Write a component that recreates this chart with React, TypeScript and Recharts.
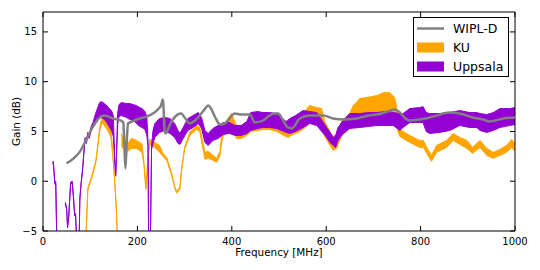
import React from 'react'
import {
  ComposedChart,
  Area,
  Line,
  XAxis,
  YAxis,
  ReferenceArea,
  Legend
} from 'recharts'

// [frequency MHz, low dB, high dB]; null = gap in the measurement
const KU: [number, number | null, number | null][] = [
  [89, -8, -8], [95, -0.9, -0.7], [105, 0.6, 0.8], [112, 1.9, 2.1], [116, 3.4, 3.6],
  [120, 5.0, 5.4], [125, 5.9, 6.4], [130, 5.6, 6.2], [137, 5.1, 5.8], [144, 4.4, 5.4],
  [148, 2.5, 2.7], [151, 0.6, 0.8], [155, -2.5, -2.3], [159.5, -8, -8], [162, null, null],
  [166, 3.6, 4.8], [172, 3.1, 4.0], [180, 3.0, 3.8], [187, 3.3, 4.3], [198, 3.3, 4.1],
  [205, 3.1, 3.9], [210, 2.8, 3.7], [214, 1.6, 1.8], [218, -0.8, -0.6], [222, 1.9, 2.1],
  [226, 3.6, 4.2], [237, 3.4, 3.9], [247, 2.9, 3.6], [254, 2.5, 2.8], [262, 2.1, 2.4],
  [272, 0.7, 0.9], [279, -0.7, -0.5], [283, -1.2, -1.0], [290, -0.8, -0.6], [293, 0.8, 1.0],
  [300, 3.2, 3.4], [311, 4.6, 4.9], [325, 5.2, 5.6], [332, 5.0, 5.4], [343, 2.2, 2.9],
  [350, 2.3, 3.0], [360, 2.1, 2.6], [368, 1.9, 2.3], [375, 2.6, 3.0], [378, 3.8, 4.4],
  [385, 5.2, 5.8], [399, 5.8, 6.8], [410, 4.3, 5.6], [420, 4.3, 5.6], [432, 4.6, 6.0],
  [440, 5.0, 6.7], [455, 5.1, 6.9], [466, 5.2, 6.8], [480, 5.2, 6.8], [495, 5.0, 6.7],
  [510, 4.6, 6.1], [519, 4.4, 5.9], [530, 4.7, 6.2], [544, 5.0, 6.7], [556, 5.4, 7.1],
  [565, 5.8, 7.6], [580, 5.8, 7.4], [590, 5.3, 7.3], [597, 4.5, 6.0], [608, 3.6, 5.0],
  [615, 3.1, 4.4], [622, 3.3, 4.8], [633, 4.6, 6.0], [643, 5.0, 6.5], [650, 5.5, 6.8],
  [657, 6.0, 7.6], [664, 6.1, 7.9], [671, 6.1, 8.3], [685, 6.1, 8.4], [707, 6.2, 8.6],
  [721, 6.2, 8.9], [735, 6.2, 8.9], [745, 6.2, 8.4], [749, 6.0, 7.6], [752, 5.0, 5.8],
  [756, 4.5, 5.2], [777, 3.9, 4.6], [798, 3.4, 4.1], [806, 3.4, 4.1], [813, 2.8, 3.4],
  [823, 2.0, 2.6], [834, 2.9, 3.6], [855, 3.4, 4.1], [869, 4.1, 4.8], [883, 3.7, 4.4],
  [898, 3.3, 4.1], [910, 2.8, 3.4], [926, 3.4, 4.1], [940, 2.6, 3.3], [954, 2.3, 2.9],
  [968, 2.6, 3.2], [982, 2.9, 3.6], [993, 3.4, 4.2], [1000, 3.0, 3.8]
]

const UPPSALA: [number, number | null, number | null][] = [
  [20, 1.7, 1.9], [22, 1.8, 2.0], [25, -0.3, -0.1], [27, -0.2, 0.0], [30, -8, -8],
  [32, null, null],
  [47, -2.3, -2.1], [50, -2.8, -2.6], [52, -4.7, -4.5], [54.5, -3.7, -3.5], [58.5, -0.3, -0.1],
  [62, -0.2, 0.0], [65, -2.0, -1.8], [67, -3.5, -3.3], [69, -3.4, -3.2], [73, -8, -8],
  [76, -8, -8], [78, -1.9, -1.7], [81, -0.2, 0.0], [84, 1.1, 1.3], [86, 2.4, 2.6],
  [89, 4.1, 4.4], [92, 3.8, 4.1], [95, 4.6, 4.9], [98, 4.3, 4.6], [102, 5.1, 5.5],
  [106, 5.4, 5.9], [110, 5.8, 6.6], [116, 6.2, 7.4], [120, 6.4, 7.9], [124, 6.4, 8.0],
  [130, 6.2, 7.8], [135, 5.9, 7.6], [140, 5.5, 7.3], [145, 5.1, 7.1], [149, 4.5, 6.6],
  [152, 2.0, 2.2], [154, 0.5, 0.7], [156, 2.8, 3.1], [158, 5.6, 6.8], [161, 6.5, 7.7],
  [166, 6.6, 7.9], [177, 6.4, 7.8], [184, 6.2, 7.8], [191, 6.1, 7.7], [198, 5.8, 7.6],
  [205, 5.5, 7.4], [210, 5.4, 7.3], [216, 5.2, 7.0], [220, 4.6, 6.5], [222.5, 3.5, 4.0],
  [224, -8, -8], [227, -8, -8], [230, 3.2, 3.5], [233, 3.8, 5.1], [237, 4.4, 5.8],
  [247, 4.9, 6.3], [258, 5.1, 6.4], [269, 4.8, 6.3], [279, 4.4, 5.8], [286, 3.8, 5.1],
  [290, 3.7, 4.8], [297, 4.3, 5.4], [307, 5.1, 6.3], [318, 5.4, 6.6], [329, 5.8, 6.9],
  [336, 5.3, 6.4], [343, 3.9, 5.1], [350, 3.6, 4.8], [360, 4.1, 5.3], [371, 4.3, 5.6],
  [382, 4.7, 5.9], [395, 4.8, 5.9], [407, 4.6, 5.6], [420, 4.6, 5.6], [432, 4.8, 6.0],
  [440, 5.1, 6.9], [455, 5.3, 7.0], [466, 5.4, 6.9], [480, 5.4, 6.9], [495, 5.3, 6.8],
  [510, 5.0, 6.2], [515, 4.9, 6.0], [523, 4.8, 6.3], [535, 5.0, 6.6], [551, 5.4, 7.1],
  [565, 5.8, 7.0], [580, 5.6, 6.9], [594, 4.8, 5.9], [601, 4.4, 5.4], [608, 3.9, 4.9],
  [615, 3.6, 4.4], [620, 3.4, 4.6], [625, 4.1, 5.4], [636, 4.8, 6.1], [650, 5.3, 6.8],
  [671, 5.4, 6.8], [690, 5.5, 6.9], [707, 5.6, 6.9], [725, 5.6, 7.0], [742, 5.6, 6.9],
  [756, 5.1, 6.8], [763, 5.4, 6.8], [777, 5.9, 7.3], [798, 5.9, 7.4], [805, 5.9, 7.5],
  [812, 5.0, 6.9], [819, 4.8, 6.8], [840, 4.9, 6.8], [862, 5.1, 6.9], [883, 5.6, 7.1],
  [904, 5.4, 6.9], [919, 5.4, 6.9], [926, 5.1, 6.8], [940, 4.9, 6.7], [954, 5.1, 6.9],
  [968, 5.4, 7.3], [989, 5.6, 7.3], [1000, 5.7, 7.4]
]

// [frequency MHz, gain dB]
const WIPL_D: [number, number][] = [
  [50, 1.8], [65, 2.3], [77, 2.9], [91, 4.1], [105, 5.4], [120, 6.4], [130, 6.6],
  [148, 6.3], [165, 6.1], [170, 5.9], [172.5, 3.5], [174.6, 1.3], [177, 3.5], [180, 5.8],
  [194, 6.1], [205, 6.3], [220, 6.5], [233, 6.8], [243, 7.2], [250, 7.6], [254, 8.2],
  [258, 5.0], [260, 4.8], [268, 5.6], [275, 6.2], [285, 6.7], [293, 6.8], [300, 6.4],
  [311, 5.8], [322, 6.1], [332, 6.6], [342, 7.2], [350, 7.6], [356, 7.3], [365, 6.4],
  [375, 5.7], [385, 5.8], [395, 6.3], [406, 6.8], [420, 6.7], [438, 6.7], [449, 5.9],
  [466, 6.1], [480, 6.6], [490, 6.8], [498, 6.8], [510, 6.0], [519, 5.4], [527, 5.3],
  [544, 6.3], [565, 6.6], [594, 6.6], [615, 6.3], [636, 6.2], [664, 6.3], [690, 6.6],
  [707, 6.7], [730, 7.0], [746, 7.2], [756, 6.9], [768, 6.3], [777, 6.1], [798, 6.2],
  [827, 6.5], [862, 6.9], [883, 6.8], [911, 6.4], [933, 6.2], [946, 6.0], [958, 6.1],
  [975, 6.3], [1000, 6.4]
]

const X_TICKS = [0, 200, 400, 600, 800, 1000]
const Y_TICKS = [-5, 0, 5, 10, 15]

const KU_COLOR = '#FFA500'
const UPPSALA_COLOR = '#9400D3'
const WIPL_COLOR = '#808080'

const FONT = 'DejaVu Sans'
const PLOT = { left: 43, top: 12, right: 515, bottom: 231 }
const TICK_LEN = 5

const toBand = (rows: [number, number | null, number | null][]) =>
  rows.map(([f, lo, hi]) => ({ f, range: lo == null || hi == null ? null : [lo, hi] }))

const kuData = toBand(KU)
const uppsalaData = toBand(UPPSALA)
const wiplData = WIPL_D.map(([f, g]) => ({ f, g }))

const fmt = (v: number) => (v < 0 ? '\u2212' + Math.abs(v) : String(v))

function XTick(props: any) {
  const { x, payload } = props
  return (
    <g>
      <line x1={x} x2={x} y1={PLOT.bottom} y2={PLOT.bottom - TICK_LEN} stroke="#000" />
      <line x1={x} x2={x} y1={PLOT.top} y2={PLOT.top + TICK_LEN} stroke="#000" />
      <text x={x} y={PLOT.bottom + 14} textAnchor="middle" fontSize={10} fontFamily={FONT} fill="#000">
        {fmt(payload.value)}
      </text>
    </g>
  )
}

function YTick(props: any) {
  const { y, payload } = props
  return (
    <g>
      <line x1={PLOT.left} x2={PLOT.left + TICK_LEN} y1={y} y2={y} stroke="#000" />
      <line x1={PLOT.right} x2={PLOT.right - TICK_LEN} y1={y} y2={y} stroke="#000" />
      <text x={PLOT.left - 6} y={y + 3.5} textAnchor="end" fontSize={10} fontFamily={FONT} fill="#000">
        {fmt(payload.value)}
      </text>
    </g>
  )
}

function LegendBox() {
  const items = [
    { name: 'WIPL-D', color: WIPL_COLOR, kind: 'line' },
    { name: 'KU', color: KU_COLOR, kind: 'patch' },
    { name: 'Uppsala', color: UPPSALA_COLOR, kind: 'patch' }
  ]
  return (
    <svg width={96} height={60} style={{ display: 'block' }}>
      <rect x={0.5} y={0.5} width={95} height={59} fill="#fff" stroke="#000" />
      {items.map((it, i) => {
        const cy = 11.5 + i * 19
        return (
          <g key={it.name}>
            {it.kind === 'line' ? (
              <line x1={4} x2={31} y1={cy} y2={cy} stroke={it.color} strokeWidth={2.5} />
            ) : (
              <rect x={4} y={cy - 5} width={27} height={10} fill={it.color} />
            )}
            <text x={40} y={cy + 4.5} fontSize={12.5} fontFamily={FONT} fill="#000">
              {it.name}
            </text>
          </g>
        )
      })}
    </svg>
  )
}

export default function App() {
  return (
    <div style={{ position: 'absolute', left: 0, top: 0, background: '#fff', fontFamily: FONT }}>
      <ComposedChart
        width={540}
        height={270}
        margin={{ top: PLOT.top, right: 540 - PLOT.right, bottom: 0, left: 0 }}
      >
        <XAxis
          dataKey="f"
          type="number"
          domain={[0, 1000]}
          ticks={X_TICKS}
          interval={0}
          allowDataOverflow
          height={270 - PLOT.bottom}
          axisLine={false}
          tickLine={false}
          tick={<XTick />}
          label={{
            content: () => (
              <text x={(PLOT.left + PLOT.right) / 2} y={256} textAnchor="middle" fontSize={10.4} fontFamily={FONT} fill="#000">
                Frequency [MHz]
              </text>
            )
          }}
        />
        <YAxis
          type="number"
          domain={[-5, 17]}
          ticks={Y_TICKS}
          interval={0}
          allowDataOverflow
          width={PLOT.left}
          axisLine={false}
          tickLine={false}
          tick={<YTick />}
          label={{
            content: () => (
              <text
                x={20}
                y={(PLOT.top + PLOT.bottom) / 2}
                transform={`rotate(-90, 20, ${(PLOT.top + PLOT.bottom) / 2})`}
                textAnchor="middle"
                fontSize={10.4}
                fontFamily={FONT}
                fill="#000"
              >
                Gain (dB)
              </text>
            )
          }}
        />
        <Area
          data={kuData}
          dataKey="range"
          name="KU"
          type="linear"
          stroke={KU_COLOR}
          strokeWidth={1}
          fill={KU_COLOR}
          fillOpacity={1}
          dot={false}
          activeDot={false}
          isAnimationActive={false}
        />
        <Area
          data={uppsalaData}
          dataKey="range"
          name="Uppsala"
          type="linear"
          stroke={UPPSALA_COLOR}
          strokeWidth={1}
          fill={UPPSALA_COLOR}
          fillOpacity={1}
          dot={false}
          activeDot={false}
          isAnimationActive={false}
        />
        <Line
          data={wiplData}
          dataKey="g"
          name="WIPL-D"
          type="monotone"
          stroke={WIPL_COLOR}
          strokeWidth={2.5}
          dot={false}
          activeDot={false}
          isAnimationActive={false}
        />
        <ReferenceArea x1={0} x2={1000} y1={-5} y2={17} fill="none" stroke="#000" strokeWidth={1} />
        <Legend
          layout="vertical"
          align="center"
          verticalAlign="middle"
          content={() => <LegendBox />}
          wrapperStyle={{ left: 413, top: 17, width: 96, height: 60 }}
        />
      </ComposedChart>
    </div>
  )
}
